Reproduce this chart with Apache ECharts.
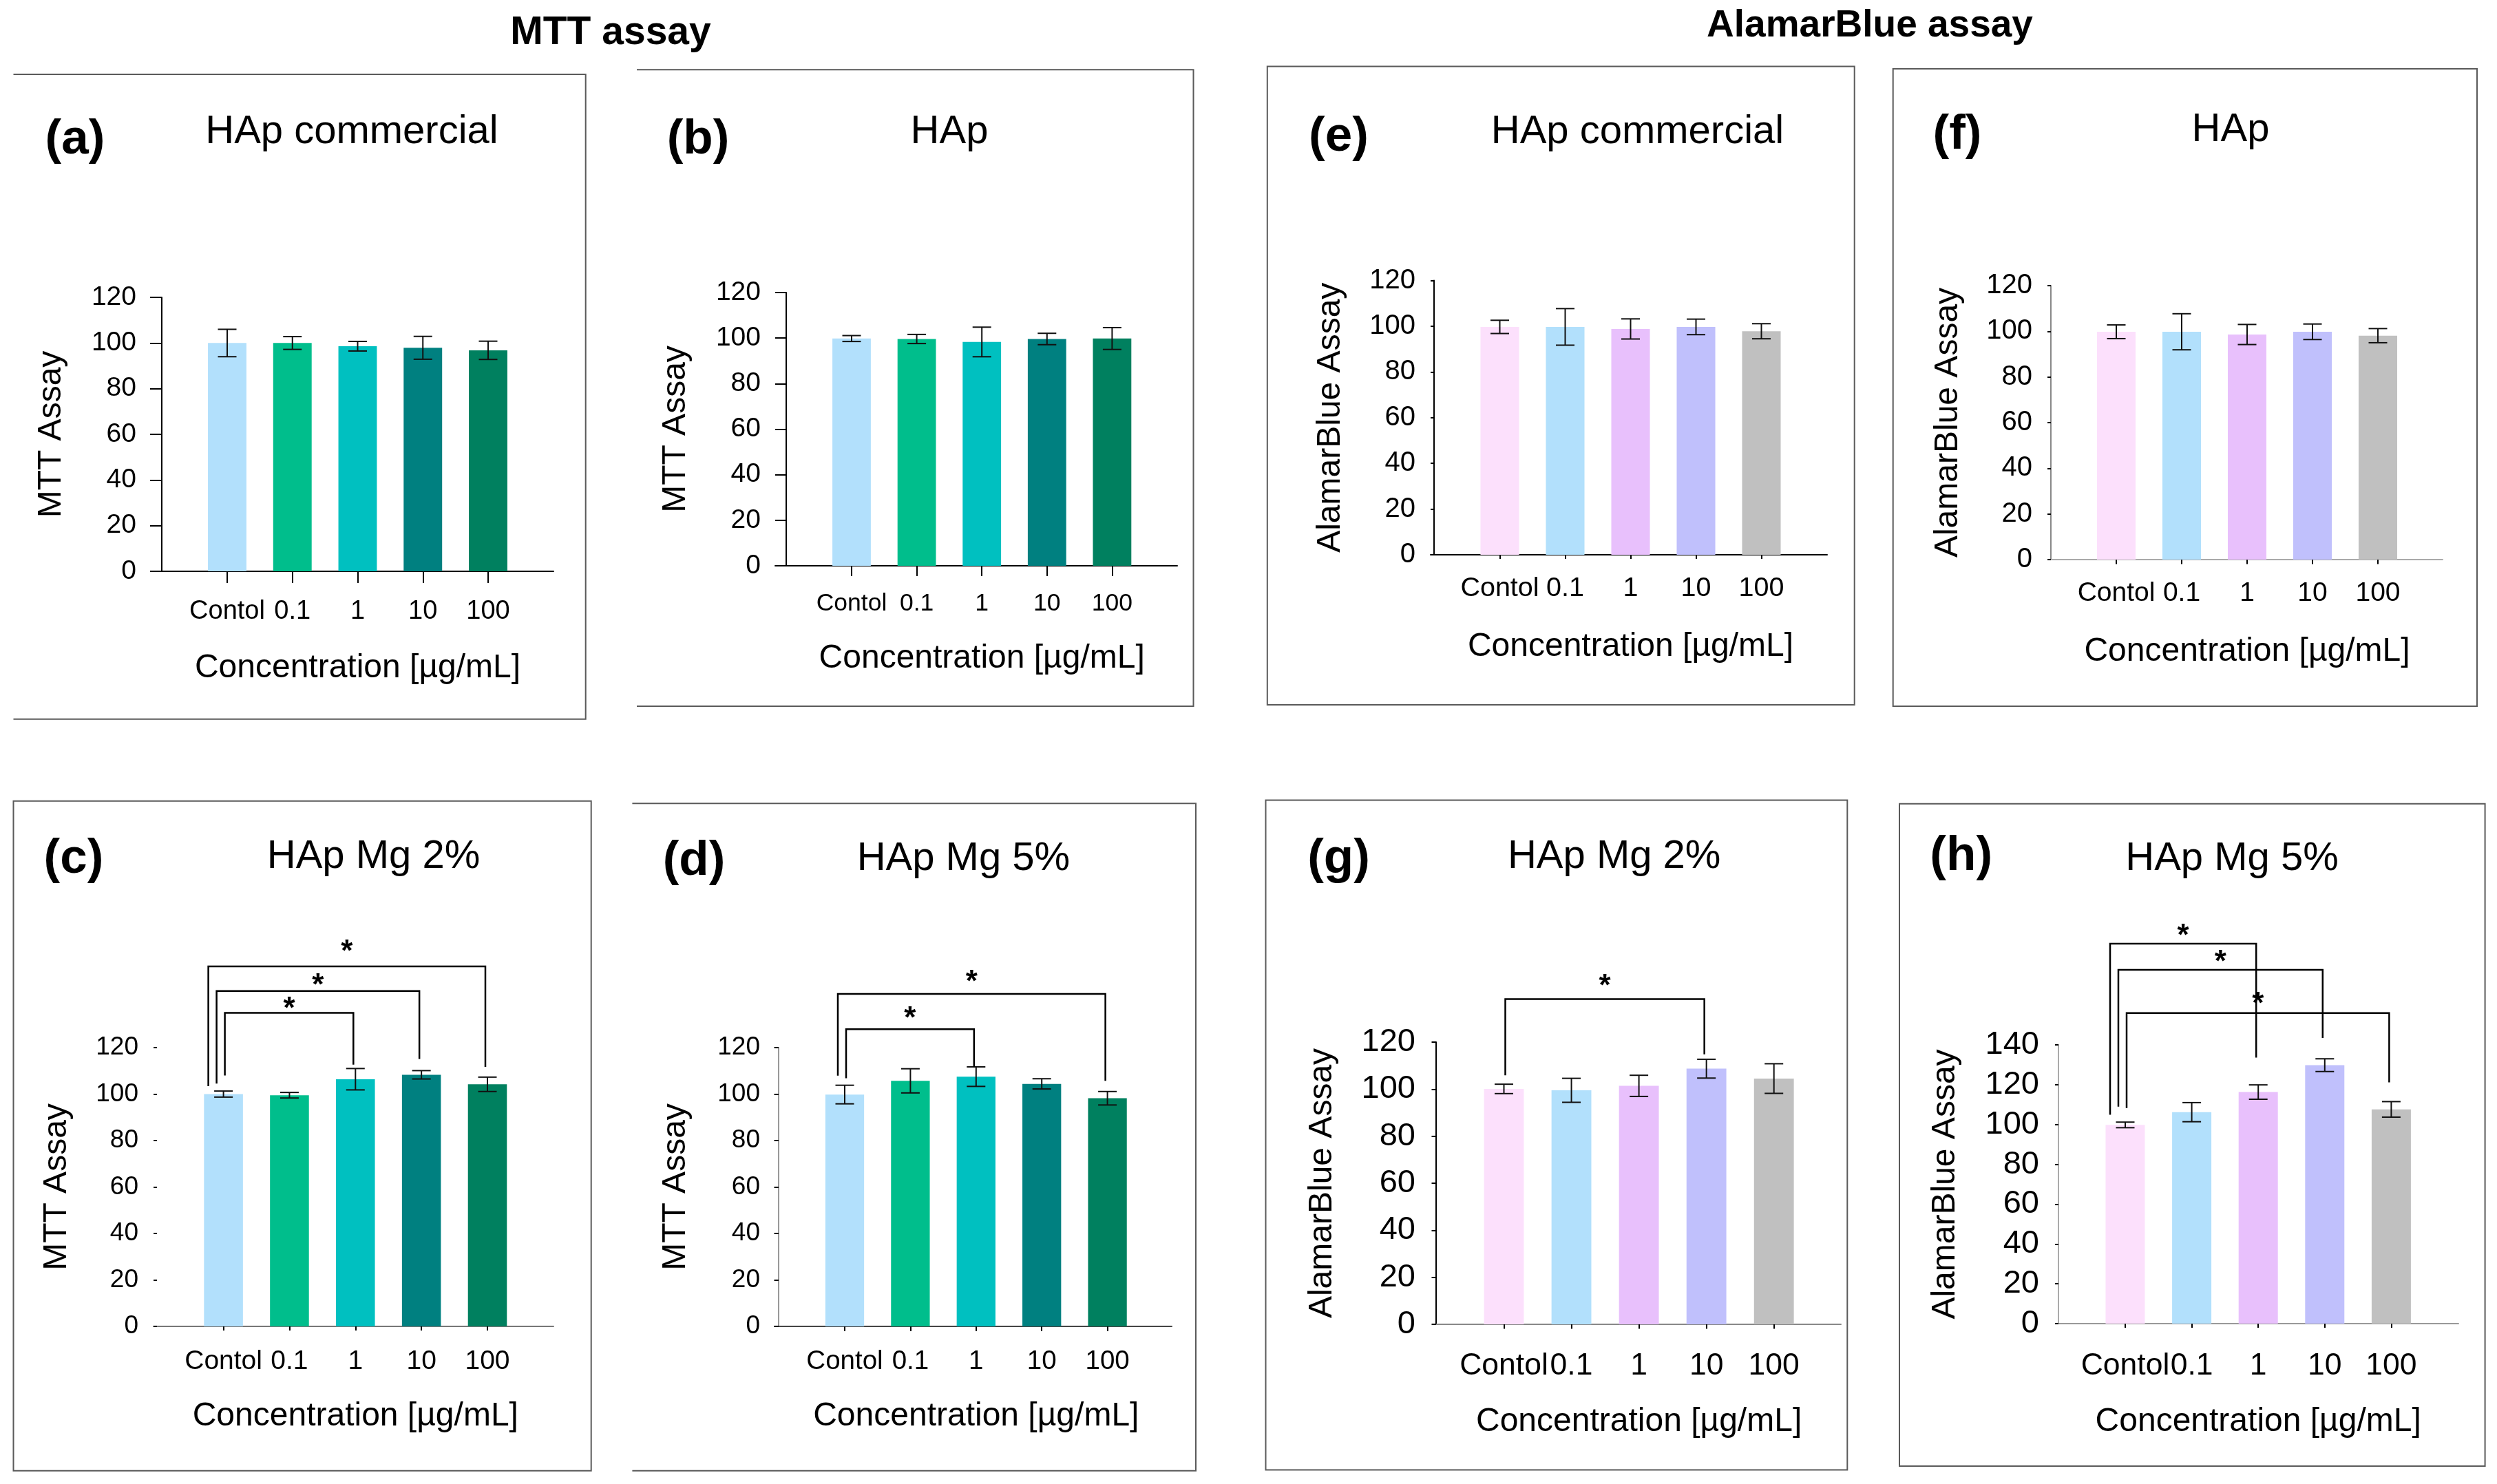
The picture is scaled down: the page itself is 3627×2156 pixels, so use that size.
<!DOCTYPE html>
<html>
<head>
<meta charset="utf-8">
<script src="https://cdn.jsdelivr.net/npm/echarts/dist/echarts.min.js"></script>
<style>
html,body{margin:0;padding:0;background:#fff;}
#chart{width:3627px;height:2156px;}
</style>
</head>
<body>
<div id="chart"></div>
<script>
// ---------------- DATA ----------------
const categories = ['Contol', '0.1', '1', '10', '100'];
const mttColors = ['#b2e0fc', '#00be8c', '#00c0c0', '#008080', '#00805f'];
const abColors  = ['#fce0fc', '#b2e0fc', '#e8c0fc', '#c0c0fc', '#c0c0c0'];
const ticks120 = [0, 20, 40, 60, 80, 100, 120];
const ticks140 = [0, 20, 40, 60, 80, 100, 120, 140];

// MTT assay
const meanA = [100.0, 100.0, 98.6, 97.9, 96.8];
const errA  = [6.0, 2.8, 2.1, 5.0, 4.0];
const meanB = [99.8, 99.6, 98.3, 99.6, 99.8];
const errB  = [1.3, 2.0, 6.5, 2.5, 4.8];
const meanC = [100.0, 99.5, 106.4, 108.3, 104.2];
const errC  = [1.3, 1.2, 4.6, 1.8, 3.1];
const meanD = [99.8, 105.7, 107.5, 104.4, 98.2];
const errD  = [4.0, 5.2, 4.2, 2.2, 2.9];
// AlamarBlue assay
const meanE = [99.7, 99.7, 98.8, 99.7, 97.8];
const errE  = [2.9, 8.0, 4.4, 3.4, 3.3];
const meanF = [99.8, 99.8, 98.6, 99.8, 98.1];
const errF  = [3.0, 7.9, 4.4, 3.4, 3.1];
const meanG = [100.1, 99.5, 101.4, 108.7, 104.5];
const errG  = [2.0, 5.1, 4.5, 4.0, 6.3];
const meanH = [99.8, 106.2, 116.3, 129.8, 107.6];
const errH  = [1.4, 4.8, 3.6, 3.2, 3.9];

// significance brackets: [fromCategory, toCategory, bracketLevel, leftLegEnd, rightLegEnd, starLevel]
const bracketsC = [[0, 2, 135.0, 108.0, 112.7, 138.9], [0, 3, 144.4, 104.5, 115.1, 149.2], [0, 4, 155.0, 103.4, 111.7, 163.5]];
const bracketsD = [[0, 2, 127.9, 106.8, 111.8, 134.8], [0, 4, 143.1, 107.9, 105.7, 150.7]];
const bracketsG = [[0, 3, 138.3, 105.9, 114.8, 146.2]];
const bracketsH = [[0, 2, 190.8, 104.9, 133.6, 197.3], [0, 3, 177.7, 109.0, 143.5, 184.3], [0, 4, 156.0, 108.3, 121.2, 163.1]];

// ---------------- LAYOUT ----------------
const FF = '"Liberation Sans", Arial, Helvetica, sans-serif';
const panels = [
  {mean: meanA, err: errA, colors: mttColors, ticks: ticks120, yName: 'MTT Assay', br: [],
   top: 432, zero: 830, c0: 330, sp: 94.75, yx: 235, lx0: 219, lx1: 804, yTick: 17, xTick: 17,
   tickFont: 39, xFont: 38, xMargin: 40, yMargin: 37, yGap: 136, xGap: 117, yLineShow: true, yLine: '#000', xLine: '#000'},
  {mean: meanB, err: errB, colors: mttColors, ticks: ticks120, yName: 'MTT Assay', br: [],
   top: 425, zero: 822, c0: 1237, sp: 94.6, yx: 1142, lx0: 1126, lx1: 1710, yTick: 16, xTick: 15,
   tickFont: 39, xFont: 35.5, xMargin: 37, yMargin: 37, yGap: 136, xGap: 111, yLineShow: true, yLine: '#000', xLine: '#000'},
  {mean: meanE, err: errE, colors: abColors, ticks: ticks120, yName: 'AlamarBlue Assay', br: [],
   top: 407.5, zero: 806, c0: 2178.5, sp: 95, yx: 2083, lx0: 2078, lx1: 2654, yTick: 5, xTick: 6,
   tickFont: 40, xFont: 39.5, xMargin: 29, yMargin: 27, yGap: 126, xGap: 110, yLineShow: true, yLine: '#000', xLine: '#000'},
  {mean: meanF, err: errF, colors: abColors, ticks: ticks120, yName: 'AlamarBlue Assay', br: [],
   top: 415, zero: 813, c0: 3074, sp: 95, yx: 2979, lx0: 2979, lx1: 3548, yTick: 5, xTick: 6.5,
   tickFont: 40, xFont: 39, xMargin: 30, yMargin: 27, yGap: 125, xGap: 110, yLineShow: true, yLine: '#888', xLine: '#aaa'},
  {mean: meanC, err: errC, colors: mttColors, ticks: ticks120, yName: 'MTT Assay', br: bracketsC,
   top: 1522, zero: 1927, c0: 324.6, sp: 95.85, yx: 228, lx0: 223, lx1: 804, yTick: 5, xTick: 6,
   tickFont: 37, xFont: 39, xMargin: 32, yMargin: 27, yGap: 121, xGap: 107, yLineShow: false, yLine: '#000', xLine: '#777'},
  {mean: meanD, err: errD, colors: mttColors, ticks: ticks120, yName: 'MTT Assay', br: bracketsD,
   top: 1522, zero: 1927, c0: 1227, sp: 95.4, yx: 1131, lx0: 1125, lx1: 1702, yTick: 6.5, xTick: 7,
   tickFont: 37, xFont: 38.5, xMargin: 32, yMargin: 27, yGap: 125, xGap: 107, yLineShow: true, yLine: '#999', xLine: '#444'},
  {mean: meanG, err: errG, colors: abColors, ticks: ticks120, yName: 'AlamarBlue Assay', br: bracketsG,
   top: 1514, zero: 1924, c0: 2184.5, sp: 98.05, yx: 2086, lx0: 2086, lx1: 2674, yTick: 6.5, xTick: 6.5,
   tickFont: 47, xFont: 44.5, xMargin: 38, yMargin: 30, yGap: 141, xGap: 118, yLineShow: true, yLine: '#000', xLine: '#888'},
  {mean: meanH, err: errH, colors: abColors, ticks: ticks140, yName: 'AlamarBlue Assay', br: bracketsH,
   top: 1518, zero: 1923, c0: 3087, sp: 96.6, yx: 2990, lx0: 2986, lx1: 3571, yTick: 5, xTick: 6,
   tickFont: 47, xFont: 44.5, xMargin: 39, yMargin: 28, yGap: 140, xGap: 119, yLineShow: true, yLine: '#aaa', xLine: '#999'}
];

const frames = [
  {open: true,  x0: 19.5,  y0: 108,    x1: 850.7,  y1: 1044.8},
  {open: true,  x0: 925,   y0: 101.2,  x1: 1733.5, y1: 1026},
  {open: false, x0: 1840.8,y0: 96.4,   x1: 2693.7, y1: 1024},
  {open: false, x0: 2749.7,y0: 99.9,   x1: 3598,   y1: 1026},
  {open: false, x0: 19.5,  y0: 1163.7, x1: 858.7,  y1: 2136.8},
  {open: true,  x0: 918.4, y0: 1167.2, x1: 1737,   y1: 2136.8},
  {open: false, x0: 1838.5,y0: 1162.4, x1: 2683.3, y1: 2135.4},
  {open: false, x0: 2759,  y0: 1167.8, x1: 3609.6, y1: 2130}
];

const texts = [
  ['MTT assay', 887, 48, 57, true],
  ['AlamarBlue assay', 2716, 38, 55, true],
  ['(a)', 109, 203, 71, true], ['HAp commercial', 511, 191.5, 58, false],
  ['(b)', 1014, 203, 71, true], ['HAp', 1379, 191.5, 58, false],
  ['(e)', 1944.5, 199.7, 71, true], ['HAp commercial', 2378.5, 191.5, 58, false],
  ['(f)', 2843, 196.3, 71, true], ['HAp', 3240, 189.4, 58, false],
  ['(c)', 107, 1248, 71, true], ['HAp Mg 2%', 542.5, 1244.7, 58, false],
  ['(d)', 1008, 1251.6, 71, true], ['HAp Mg 5%', 1399.4, 1248, 58, false],
  ['(g)', 1944.5, 1248, 71, true], ['HAp Mg 2%', 2344.7, 1244.7, 58, false],
  ['(h)', 2848.7, 1244.7, 71, true], ['HAp Mg 5%', 3242, 1248, 58, false]
];

// ---------------- RENDER FUNCTIONS ----------------
function renderErr(params, api) {
  const x = api.value(0), m = api.value(1), e = api.value(2);
  const pt = api.coord([x, m + e]);
  const pb = api.coord([x, m - e]);
  const hw = 13.5;
  const st = {stroke: '#111', lineWidth: 2};
  return {type: 'group', children: [
    {type: 'line', shape: {x1: pt[0], y1: pt[1], x2: pb[0], y2: pb[1]}, style: st},
    {type: 'line', shape: {x1: pt[0] - hw, y1: pt[1], x2: pt[0] + hw, y2: pt[1]}, style: st},
    {type: 'line', shape: {x1: pb[0] - hw, y1: pb[1], x2: pb[0] + hw, y2: pb[1]}, style: st}
  ]};
}
function renderBracket(params, api) {
  const from = api.value(0), to = api.value(1), lvl = api.value(2);
  const le = api.value(3), re = api.value(4), star = api.value(5), rank = api.value(6);
  const pl = api.coord([from, lvl]);
  const pr = api.coord([to, lvl]);
  const yl = api.coord([from, le])[1];
  const yr = api.coord([to, re])[1];
  const ys = api.coord([from, star])[1];
  const xl = pl[0] + 2 - rank * 12;
  const xr = pr[0] - 3;
  return {type: 'group', children: [
    {type: 'polyline', shape: {points: [[xl, yl], [xl, pl[1]], [xr, pl[1]], [xr, yr]]},
     style: {stroke: '#000', lineWidth: 2.5, fill: null}},
    {type: 'text', x: (xl + xr) / 2, y: ys + 9,
     style: {text: '*', font: 'bold 44px ' + FF, fill: '#000', align: 'center', verticalAlign: 'middle'}}
  ]};
}

// ---------------- BUILD OPTION ----------------
const grid = [], xAxis = [], yAxis = [], series = [];
panels.forEach((p, k) => {
  const gi = 2 * k, gl = 2 * k + 1;
  const left = p.c0 - p.sp / 2, width = p.sp * categories.length;
  const height = p.zero - p.top;
  const tk = p.ticks;
  grid.push({left: left, top: p.top, width: width, height: height, containLabel: false, outerBoundsMode: 'none'});
  grid.push({left: p.lx0, top: p.top, width: p.lx1 - p.lx0, height: height, containLabel: false, outerBoundsMode: 'none'});
  xAxis.push({
    gridIndex: gi, type: 'category', data: categories,
    axisLine: {show: false},
    axisTick: {show: true, alignWithLabel: true, length: p.xTick, lineStyle: {color: '#000', width: 2}},
    axisLabel: {interval: 0, fontSize: p.xFont, fontFamily: FF, color: '#000', margin: p.xMargin},
    splitLine: {show: false},
    name: 'Concentration [µg/mL]', nameLocation: 'middle', nameGap: p.xGap,
    nameTextStyle: {fontSize: 48, fontFamily: FF, color: '#000'}
  });
  xAxis.push({
    gridIndex: gl, type: 'value', min: 0, max: 1,
    axisLine: {show: true, onZero: false, lineStyle: {color: p.xLine, width: 2}},
    axisTick: {show: false}, axisLabel: {show: false}, splitLine: {show: false}
  });
  yAxis.push({
    gridIndex: gi, type: 'value', min: tk[0], max: tk[tk.length - 1], interval: tk[1] - tk[0],
    offset: left - p.yx,
    axisLine: {show: p.yLineShow, lineStyle: {color: p.yLine, width: 2}},
    axisTick: {show: true, length: p.yTick, lineStyle: {color: '#000', width: 2}},
    axisLabel: {fontSize: p.tickFont, fontFamily: FF, color: '#000', margin: p.yMargin},
    splitLine: {show: false},
    name: p.yName, nameLocation: 'middle', nameGap: p.yGap, nameRotate: 90,
    nameTextStyle: {fontSize: 48, fontFamily: FF, color: '#000'}
  });
  yAxis.push({gridIndex: gl, type: 'value', min: 0, max: 1, show: false});

  series.push({
    type: 'bar', xAxisIndex: gi, yAxisIndex: gi, barWidth: '59%', z: 2,
    data: p.mean.map((v, i) => ({value: v, itemStyle: {color: p.colors[i]}}))
  });
  series.push({
    type: 'custom', xAxisIndex: gi, yAxisIndex: gi, z: 3, clip: false,
    renderItem: renderErr, encode: {x: 0, y: 1},
    data: p.mean.map((v, i) => [i, v, p.err[i]])
  });
  if (p.br.length) {
    const order = p.br.map((b, i) => [b[2], i]).sort((a, b) => a[0] - b[0]);
    const rank = [];
    order.forEach((o, r) => { rank[o[1]] = r; });
    series.push({
      type: 'custom', xAxisIndex: gi, yAxisIndex: gi, z: 4, clip: false,
      renderItem: renderBracket, encode: {x: 0, y: 2},
      data: p.br.map((b, i) => b.concat([rank[i]]))
    });
  }
});

const graphic = [];
frames.forEach(f => {
  if (f.open) {
    graphic.push({type: 'polyline', shape: {points: [[f.x0, f.y0], [f.x1, f.y0], [f.x1, f.y1], [f.x0, f.y1]]},
      style: {stroke: '#5a5a5a', lineWidth: 2, fill: null}, silent: true});
  } else {
    graphic.push({type: 'rect', shape: {x: f.x0, y: f.y0, width: f.x1 - f.x0, height: f.y1 - f.y0},
      style: {stroke: '#5a5a5a', lineWidth: 2, fill: null}, silent: true});
  }
});
texts.forEach(t => {
  graphic.push({type: 'text', x: t[1], y: t[2], silent: true,
    style: {text: t[0], font: (t[4] ? 'bold ' : '') + t[3] + 'px ' + FF, fill: '#000', align: 'center', verticalAlign: 'middle'}});
});

const chart = echarts.init(document.getElementById('chart'), null, {renderer: 'canvas'});
chart.setOption({
  animation: false,
  backgroundColor: '#fff',
  grid: grid, xAxis: xAxis, yAxis: yAxis, series: series, graphic: graphic
});
</script>
</body>
</html>
